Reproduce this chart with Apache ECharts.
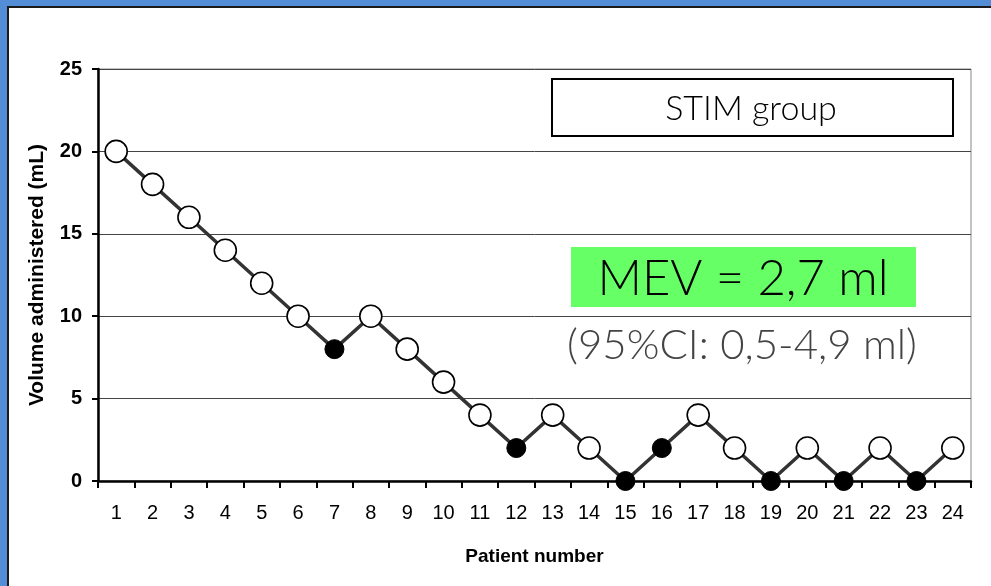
<!DOCTYPE html>
<html>
<head>
<meta charset="utf-8">
<script src="https://cdn.jsdelivr.net/npm/echarts@6/dist/echarts.min.js"></script>
<style>
html,body{margin:0;padding:0;background:#fff;}
#c{width:991px;height:586px;}
</style>
</head>
<body>
<div id="c"></div>
<script>
// Data
const patients = ['1','2','3','4','5','6','7','8','9','10','11','12','13','14','15','16','17','18','19','20','21','22','23','24'];
const volumes = [20,18,16,14,12,10,8,10,8,6,4,2,4,2,0,2,4,2,0,2,0,2,0,2];
// 1 = filled (black) marker, 0 = open (white) marker
const filled = [0,0,0,0,0,0,1,0,0,0,0,1,0,0,1,1,0,0,1,0,1,0,1,0];
const yTicks = [0,5,10,15,20,25];
const groupLabel = 'STIM group';
const mevLabel = 'MEV = 2,7 ml';
const ciLabel = '(95%CI: 0,5-4,9 ml)';

const chart = echarts.init(document.getElementById('c'), null, {renderer:'canvas'});
const seriesData = volumes.map((v,i)=>({
  value: v,
  symbolSize: filled[i] ? 19 : 22,
  itemStyle: {color: filled[i] ? '#000' : '#fff', borderColor:'#000', borderWidth: filled[i] ? 1 : 1.6}
}));
const lightFont = "'Lato','Open Sans','Noto Sans',sans-serif";
const axisFont = 'Arial, Liberation Sans, sans-serif';
chart.setOption({
  animation:false,
  backgroundColor:'#fff',
  grid:{left:98,right:20,top:69,bottom:105,show:true,borderColor:'#888',borderWidth:1,backgroundColor:'transparent'},
  xAxis:{
    type:'category', data:patients, boundaryGap:true,
    name:'Patient number', nameLocation:'middle', nameGap:66,
    nameTextStyle:{fontFamily:axisFont,fontWeight:'bold',fontSize:19,color:'#000'},
    axisLine:{lineStyle:{color:'#000',width:2.5}},
    axisTick:{show:true,inside:false,length:7,interval:0,alignWithLabel:false,lineStyle:{color:'#000',width:2}},
    axisLabel:{interval:0,margin:22,fontFamily:axisFont,fontSize:20,color:'#000'},
    splitLine:{show:false}
  },
  yAxis:{
    type:'value', min:yTicks[0], max:yTicks[yTicks.length-1], interval:5,
    name:'Volume administered (mL)', nameLocation:'middle', nameGap:50,
    nameTextStyle:{fontFamily:axisFont,fontWeight:'bold',fontSize:21,color:'#000'},
    axisLine:{show:true,lineStyle:{color:'#000',width:2.5}},
    axisTick:{show:true,inside:false,length:6,lineStyle:{color:'#000',width:2}},
    axisLabel:{margin:16,fontFamily:axisFont,fontWeight:'bold',fontSize:20,color:'#000'},
    splitLine:{show:true,lineStyle:{color:'#444',width:1}}
  },
  series:[{
    type:'line', data:seriesData, symbol:'circle',
    lineStyle:{color:'#333',width:3.5},
    z:3
  }],
  graphic:[
    {type:'rect',shape:{x:0,y:0,width:991,height:6},style:{fill:'#538dd5'},z:100},
    {type:'rect',shape:{x:0,y:0,width:7,height:586},style:{fill:'#538dd5'},z:100},
    {type:'rect',shape:{x:7,y:6,width:984,height:2},style:{fill:'#1a1a1a'},z:100},
    {type:'rect',shape:{x:7,y:6,width:2,height:580},style:{fill:'#1a1a1a'},z:100},
    {type:'rect',shape:{x:552,y:79,width:401,height:57},style:{fill:'#fff',stroke:'#000',lineWidth:2},z:50},
    {type:'text',x:751,y:109,style:{text:groupLabel,fontFamily:lightFont,fontWeight:300,fontSize:34,fill:'#000',align:'center',verticalAlign:'middle'},z:51},
    {type:'rect',shape:{x:571,y:247,width:345,height:60},style:{fill:'#66ff66'},z:50},
    {type:'text',x:743,y:279,style:{text:mevLabel,fontFamily:lightFont,fontWeight:300,fontSize:49,fill:'#000',align:'center',verticalAlign:'middle'},z:51},
    {type:'text',x:742,y:345,style:{text:ciLabel,fontFamily:lightFont,fontWeight:300,fontSize:42,fill:'#444',align:'center',verticalAlign:'middle'},z:51}
  ]
});
</script>
</body>
</html>
